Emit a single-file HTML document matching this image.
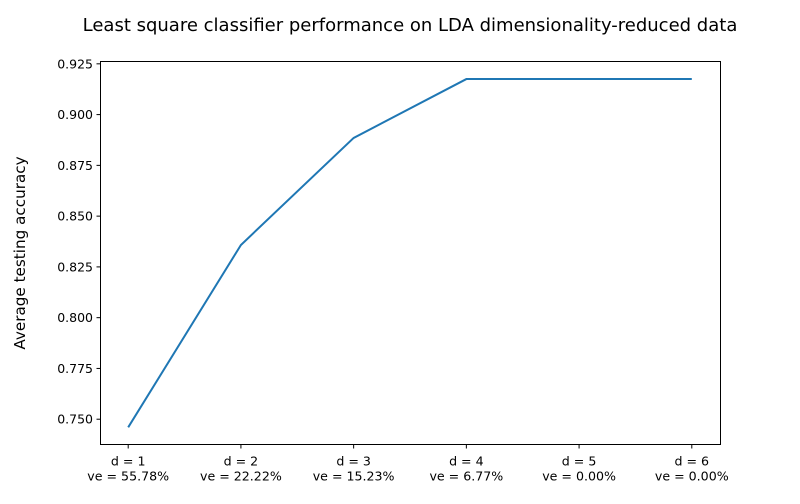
<!DOCTYPE html>
<html><head><meta charset="utf-8"><style>
body{margin:0;background:#fff;font-family:"DejaVu Sans","Liberation Sans",sans-serif;}
</style></head><body>
<svg id="chart" width="800" height="500" xmlns="http://www.w3.org/2000/svg" font-family="DejaVu Sans, Liberation Sans, sans-serif">
<text x="410" y="31" font-size="18" text-anchor="middle">Least square classifier performance on LDA dimensionality-reduced data</text>
<text transform="translate(25,253) rotate(-90)" font-size="15.2" text-anchor="middle">Average testing accuracy</text>
<g id="plot"></g>
<rect x="100.5" y="61.5" width="620" height="383" fill="none" stroke="#000" stroke-width="1"/>
</svg>
<script>
const categories = ["d = 1","d = 2","d = 3","d = 4","d = 5","d = 6"];
const veLabels = ["ve = 55.78%","ve = 22.22%","ve = 15.23%","ve = 6.77%","ve = 0.00%","ve = 0.00%"];
const accuracy = [0.746, 0.8358, 0.8885, 0.9175, 0.9175, 0.9175];
const yTicks = [0.750,0.775,0.800,0.825,0.850,0.875,0.900,0.925];

const L=100, R=720, T=62, B=445;
const yMin=0.7373, yMax=0.9259;
const n=categories.length;
const x0=L+28.2, x1=R-28.2;
const xs=i=>x0+(x1-x0)*i/(n-1);
const ys=v=>B-(v-yMin)/(yMax-yMin)*(B-T);
const g=document.getElementById('plot');
const NS="http://www.w3.org/2000/svg";
function mk(t,a){const e=document.createElementNS(NS,t);for(const k in a)e.setAttribute(k,a[k]);g.appendChild(e);return e;}
yTicks.forEach(v=>{
  const y=ys(v);
  const tk=mk('line',{x1:L-3.5,x2:L,y1:y,y2:y,stroke:'#000'});
  
  
  const t=mk('text',{x:L-7,y:y+4.5,'font-size':'12.5','text-anchor':'end'});
  t.textContent=v.toFixed(3);
  
  
});
categories.forEach((c,i)=>{
  const x=xs(i);
  const tk=mk('line',{x1:x,x2:x,y1:B,y2:B+3.5,stroke:'#000'});
  
  
  const t=mk('text',{x:x,y:465.5,'font-size':'12.6','text-anchor':'middle'});
  t.textContent=c;
  
  
  const t2=mk('text',{x:x,y:480.5,'font-size':'12.6','text-anchor':'middle'});
  t2.textContent=veLabels[i];
  
  
});
const p=mk('polyline',{points:accuracy.map((v,i)=>xs(i)+','+ys(v)).join(' '),fill:'none',stroke:'#1f77b4','stroke-width':'2'});


</script>
</body></html>
